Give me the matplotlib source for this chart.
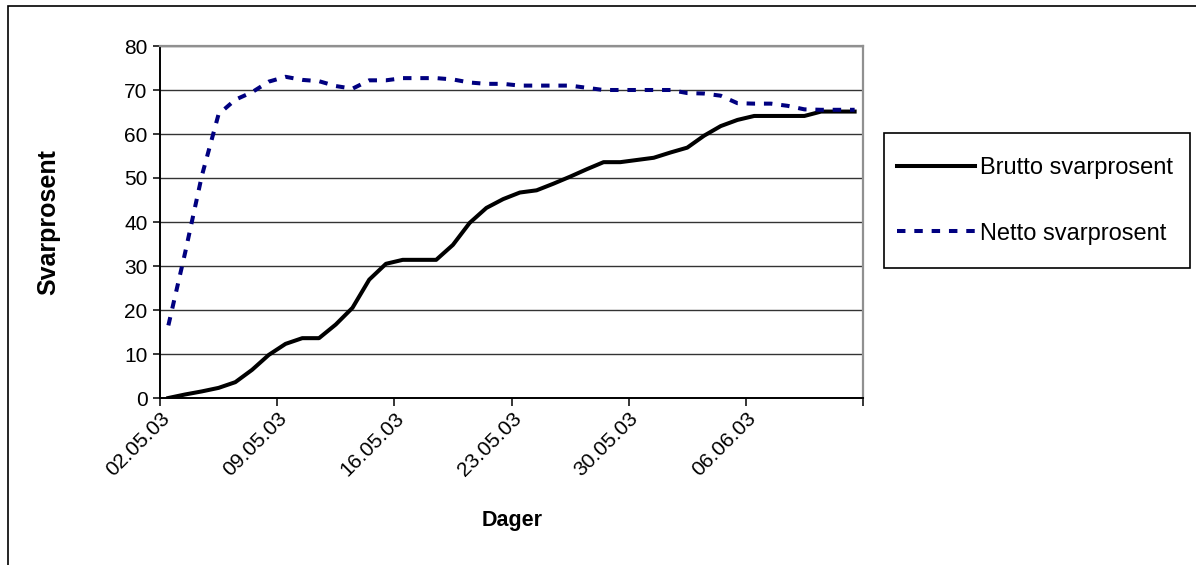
import matplotlib
matplotlib.use('Agg')
import matplotlib.pyplot as plt
from matplotlib.patches import Rectangle

plt.rcParams['font.family'] = ['Liberation Sans', 'DejaVu Sans']

# daily response rates, 02.05.03 - 12.06.03
brutto = [0, 0.8, 1.5, 2.3, 3.6, 6.4, 9.8, 12.3, 13.6, 13.6,
          16.7, 20.5, 26.9, 30.5, 31.4, 31.4, 31.4, 34.8, 39.8, 43.2,
          45.2, 46.7, 47.2, 48.7, 50.3, 52.0, 53.6, 53.6, 54.1, 54.6,
          55.8, 56.9, 59.6, 61.8, 63.2, 64.1, 64.1, 64.1, 64.1, 65.1,
          65.1, 65.1]
netto = [16.5, 33.0, 50.5, 64.5, 67.8, 69.5, 71.9, 73.0, 72.3, 72.0,
         70.9, 70.3, 72.2, 72.2, 72.7, 72.7, 72.7, 72.4, 71.7, 71.4,
         71.4, 71.0, 71.0, 71.0, 71.0, 70.5, 70.0, 70.0, 70.0, 70.0,
         70.0, 69.3, 69.2, 68.7, 67.0, 66.9, 66.9, 66.4, 65.6, 65.5,
         65.5, 65.5]
tick_labels = ['02.05.03', '09.05.03', '16.05.03', '23.05.03',
               '30.05.03', '06.06.03', '']
series_names = ['Brutto svarprosent', 'Netto svarprosent']

W, H = 1196, 565
fig = plt.figure(figsize=(W / 100, H / 100), dpi=100)
ax = fig.add_axes([160 / W, 1 - 398 / H, 703 / W, 352 / H])

x = [i + 0.5 for i in range(len(brutto))]
lw = 2.9
l1, = ax.plot(x, brutto, color='black', lw=lw, solid_joinstyle='round',
              label=series_names[0])
l2, = ax.plot(x, netto, color='#000080', lw=lw, dashes=(2.1, 2.2),
              dash_capstyle='butt', label=series_names[1])

ax.set_xlim(0, len(brutto))
ax.set_ylim(0, 80)
ax.set_yticks(range(0, 81, 10))
ax.set_xticks(range(0, len(brutto) + 1, 7))
ax.set_xticklabels(tick_labels, rotation=45, ha='right', va='top',
                   rotation_mode='anchor')
ax.tick_params(axis='y', length=5, width=1.1, pad=4, labelsize=15)
ax.tick_params(axis='x', length=6, width=1.1, pad=2, labelsize=15)
ax.yaxis.grid(True, color='#333333', lw=1.0)
ax.set_axisbelow(True)

for s in ['top', 'right']:
    ax.spines[s].set_color('#909090')
    ax.spines[s].set_linewidth(1.6)
for s in ['left', 'bottom']:
    ax.spines[s].set_color('black')
    ax.spines[s].set_linewidth(1.4)

ax.set_ylabel('Svarprosent', fontsize=18, fontweight='bold')
ax.yaxis.set_label_coords(-(160 - 60) / 703, 0.5)
ax.set_xlabel('Dager', fontsize=15.5, fontweight='bold')
ax.xaxis.set_label_coords(352 / 703, -(510 - 398) / 352)

# outer chart border
fig.patches.append(Rectangle((8 / W, -0.1), 1.2, 1.1 - 6 / H, fill=False,
                             lw=1.2, ec='black', transform=fig.transFigure))

# legend box
fig.patches.append(Rectangle((884 / W, 1 - 268 / H), 306 / W, 135 / H,
                             fill=False, lw=1.2, ec='black',
                             transform=fig.transFigure))
leg = fig.legend(handles=[l1, l2], loc='upper left',
                 bbox_to_anchor=(897 / W, 1 - 157 / H), frameon=False,
                 fontsize=17, handlelength=3.3, handletextpad=0.2,
                 labelspacing=1.85, borderpad=0, borderaxespad=0)

fig.savefig('out.png', dpi=100)
